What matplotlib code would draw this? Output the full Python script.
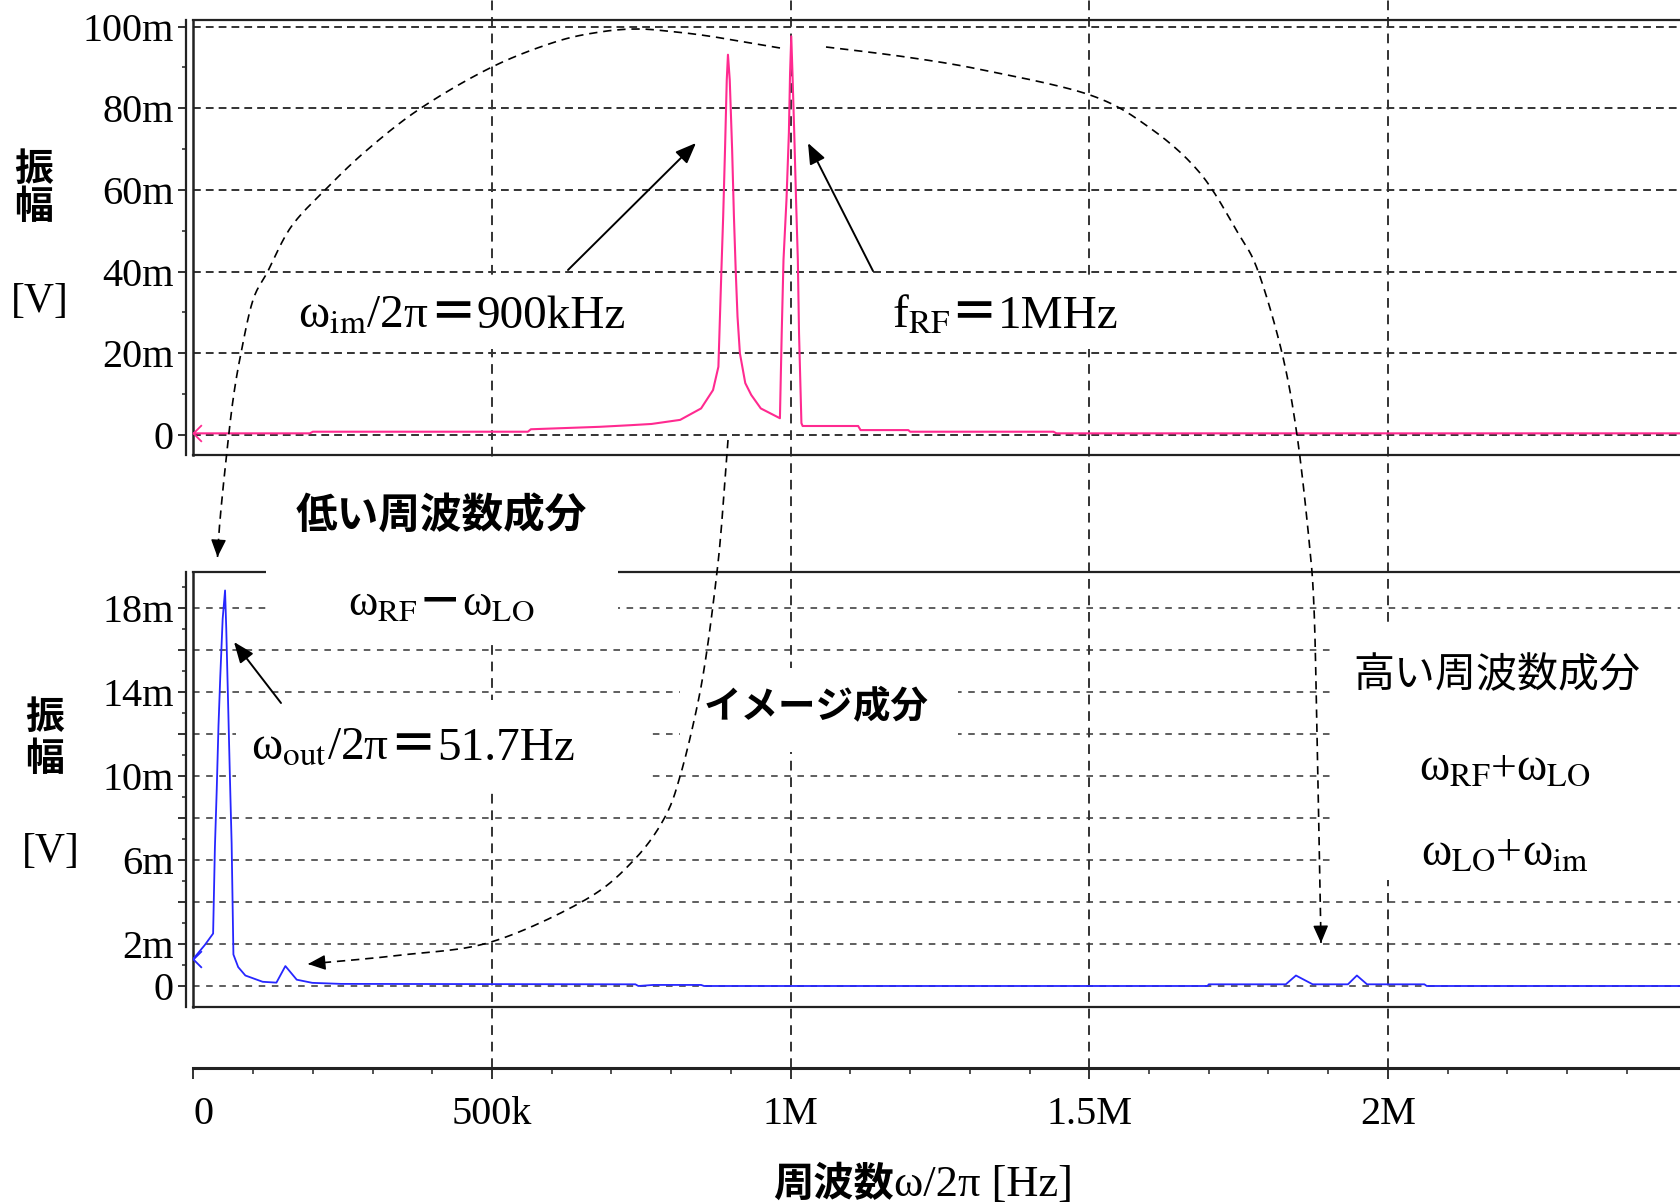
import matplotlib
matplotlib.use("Agg")
import numpy as np
import matplotlib.pyplot as plt
from matplotlib.path import Path
from matplotlib.patches import Rectangle
from matplotlib.ticker import MultipleLocator

SERIF = 'Liberation Serif'
CJK = 'Noto Sans CJK JP'
plt.rcParams['font.family'] = [SERIF, CJK]
plt.rcParams['mathtext.fontset'] = 'stix'

# ---- data ----
# upper trace (RF input spectrum): frequency in kHz, amplitude in mV
rf_freq_khz = [0, 195, 200, 560, 565, 680, 732, 767, 815, 850, 870, 879,
               884, 887, 890, 893, 895, 898, 902, 905, 908, 911, 915, 924,
               934, 950, 982, 985, 988, 993, 997, 999, 1001, 1003, 1006, 1009,
               1012, 1014, 1018, 1020, 1113, 1117, 1197, 1200, 1440, 1445, 2489]
rf_amp_mv = [0.4, 0.4, 0.8, 0.8, 1.4, 2.0, 2.4, 2.7, 3.7, 6.5, 11.0, 16.7,
             40.2, 53.5, 69.4, 86.9, 93.1, 86.9, 69.8, 53.5, 40.2, 29.0, 20.0, 12.7,
             9.8, 6.5, 4.1, 24.9, 42.9, 57.6, 73.9, 88.6, 97.6, 88.6, 73.9, 57.6,
             42.9, 24.9, 2.9, 2.2, 2.2, 1.2, 1.2, 0.8, 0.8, 0.4, 0.4]

# lower trace (mixer output spectrum)
out_freq_khz = [0, 19, 33, 36, 39, 42, 45, 49, 53, 55, 58, 61,
                64, 67, 75, 87, 116, 139, 154, 173, 199, 247, 740, 745,
                770, 850, 855, 1698, 1700, 1829, 1846, 1874, 1933, 1948, 1965, 2061,
                2065, 2489]
out_amp_mv = [1.3, 1.95, 2.5, 6.6, 9.3, 12.4, 14.75, 17.5, 18.85, 17.05, 13.6, 10.1,
              6.8, 1.5, 0.9, 0.5, 0.2, 0.16, 0.95, 0.3, 0.15, 0.1, 0.08, 0.0,
              0.05, 0.05, 0.0, 0.0, 0.08, 0.08, 0.5, 0.08, 0.08, 0.5, 0.08, 0.08,
              0.0, 0.0]

x_ticks = [0, 500e3, 1e6, 1.5e6, 2e6]
x_ticklabels = ['0', '500k', '1M', '1.5M', '2M']
top_yticks = [0, 20, 40, 60, 80, 100]
top_yticklabels = ['0', '20m', '40m', '60m', '80m', '100m']
bot_yticks = [0, 2, 4, 6, 8, 10, 12, 14, 16, 18]
bot_yticklabels = ['0', '2m', '', '6m', '', '10m', '', '14m', '', '18m']

RF_COLOR = '#ff2a90'
OUT_COLOR = '#2626ff'
GRID = '#333333'
FRAME = '#222222'

# ---- layout, in pixels of the 1680x1203 picture ----
W, H = 1680, 1203
X0 = 193.4
XMAX = 2.489e6


def fbox(x0, y0, x1, y1):
    return [x0 / W, 1 - y1 / H, (x1 - x0) / W, (y1 - y0) / H]


fig = plt.figure(figsize=(W / 100, H / 100), dpi=100)
bg = fig.add_axes(fbox(X0, 0, W, 1068), zorder=0)
ax1 = fig.add_axes(fbox(X0, 20, W, 455), zorder=1)
ax2 = fig.add_axes(fbox(X0, 572, W, 1006.7), zorder=1)
ov = fig.add_axes([0, 0, 1, 1], zorder=5)

# vertical grid runs through the whole picture
bg.set_xlim(0, XMAX)
bg.set_ylim(0, 1)
bg.axis('off')
for xv in x_ticks[1:]:
    bg.axvline(xv, color=GRID, lw=1.4, ls=(0, (5, 3.5)))

chevron = Path([(1, 1), (0, 0), (1, -1)], [Path.MOVETO, Path.LINETO, Path.LINETO])

rf_f = np.array(rf_freq_khz) * 1e3
out_f = np.array(out_freq_khz) * 1e3

ax1.plot(rf_f, rf_amp_mv, color=RF_COLOR, lw=1.5, zorder=3)
ax1.plot(rf_f[0], rf_amp_mv[0], marker=chevron, ms=12, mfc='none', mec=RF_COLOR,
         mew=1.3, clip_on=False, zorder=4)
ax1.set_ylim(-4.9, 101.6)
ax1.set_yticks(top_yticks, top_yticklabels)
ax1.yaxis.set_minor_locator(MultipleLocator(10))
for v in top_yticks:
    ax1.axhline(v, color=GRID, lw=1.4, ls=(0, (4, 2.6)), zorder=1)

ax2.plot(out_f, out_amp_mv, color=OUT_COLOR, lw=1.3, zorder=3)
ax2.plot(out_f[0], out_amp_mv[0], marker=chevron, ms=12, mfc='none', mec=OUT_COLOR,
         mew=1.3, clip_on=False, zorder=4)
ax2.set_ylim(-0.987, 19.73)
ax2.set_yticks(bot_yticks, bot_yticklabels)
ax2.yaxis.set_minor_locator(MultipleLocator(1))
for v in bot_yticks:
    ax2.axhline(v, color=GRID, lw=1.1, ls=(0, (4.3, 4.3)), zorder=1)

for ax in (ax1, ax2):
    ax.set_facecolor('none')
    ax.set_xlim(0, XMAX)
    ax.spines['right'].set_visible(False)
    ax.spines['left'].set_position(('outward', 5))
    for s in ('left', 'top', 'bottom'):
        ax.spines[s].set_linewidth(1.6)
        ax.spines[s].set_color(FRAME)
    ax.axvline(0, color=FRAME, lw=1.8, clip_on=False)
    ax.tick_params(axis='y', which='major', direction='out', length=6, width=1.3,
                   pad=3, labelsize=29, color=FRAME)
    ax.tick_params(axis='y', which='minor', direction='out', length=3, width=1.1,
                   color=FRAME)

ax1.tick_params(axis='x', which='both', bottom=False, labelbottom=False)

# lower panel: the x axis sits below the frame
ax2.spines['bottom'].set_position(('outward', 44))
ax2.spines['bottom'].set_linewidth(2.2)
ax2.axhline(-0.987, color=FRAME, lw=1.6, clip_on=False)
ax2.set_xticks(x_ticks, x_ticklabels)
ax2.xaxis.set_minor_locator(MultipleLocator(100e3))
ax2.tick_params(axis='x', which='major', direction='out', length=8, width=1.3,
                pad=12, labelsize=29, color=FRAME)
ax2.tick_params(axis='x', which='minor', direction='out', length=4, width=1.1,
                color=FRAME)
ax2.get_xticklabels()[0].set_horizontalalignment('left')

# ---- overlay: white text boxes, arrows, labels ----
ov.set_xlim(0, W)
ov.set_ylim(H, 0)
ov.axis('off')

text_boxes = [(293, 277, 632, 349), (885, 277, 1125, 349), (266, 462, 618, 640),
              (236, 700, 650, 790), (680, 668, 958, 752), (1330, 628, 1680, 880)]
for x0, y0, x1, y1 in text_boxes:
    ov.add_patch(Rectangle((x0, y0), x1 - x0, y1 - y0, facecolor='white',
                           edgecolor='none', zorder=1))


def smooth(pts, n=14):
    p = np.asarray(pts, float)
    p = np.vstack([p[0], p, p[-1]])
    out = []
    t = np.linspace(0, 1, n, endpoint=False)[:, None]
    for i in range(1, len(p) - 2):
        p0, p1, p2, p3 = p[i - 1], p[i], p[i + 1], p[i + 2]
        out.append(0.5 * (2 * p1 + (-p0 + p2) * t + (2 * p0 - 5 * p1 + 4 * p2 - p3) * t ** 2
                          + (-p0 + 3 * p1 - 3 * p2 + p3) * t ** 3))
    out.append(p[-2][None])
    return np.vstack(out)


HEAD = '-|>,head_length=0.6,head_width=0.26'


def dashed_arrow(pts):
    c = smooth(pts)
    ov.plot(c[:, 0], c[:, 1], color='k', lw=1.2, ls=(0, (5, 3.5)), zorder=2)
    tip = c[-1]
    d = c[-1] - c[-4]
    d = d / np.hypot(*d)
    ov.annotate('', xy=tip, xytext=tip - d * 6,
                arrowprops=dict(arrowstyle=HEAD, mutation_scale=18, color='k', lw=1.0,
                                shrinkA=0, shrinkB=0), zorder=3)


# from the 1 MHz peak down to the low and the high frequency components
dashed_arrow([(780, 48), (715, 37), (676, 32), (638, 29), (600, 32), (555, 42),
              (492, 67), (421, 108), (367, 150), (325, 190), (291, 227), (268, 271),
              (253, 300), (241, 353), (233, 400), (226, 460), (220, 520), (217.5, 557)])
dashed_arrow([(826, 47), (906, 57), (983, 70), (1090, 95), (1150, 128), (1200, 173),
              (1238, 233), (1258, 271), (1282, 353), (1297, 435), (1309, 540),
              (1314, 608), (1317, 733), (1321, 943)])
# image component
dashed_arrow([(728, 440), (722, 520), (717, 572), (707, 650), (697, 707), (681, 773),
              (665, 817), (634, 860), (585, 900), (491, 942), (402, 955), (308, 964)])

for tail, head in [((568, 270), (696, 143)), ((873, 271), (808, 143)),
                   ((281, 703), (234, 642))]:
    ov.annotate('', xy=head, xytext=tail,
                arrowprops=dict(arrowstyle='-|>,head_length=0.7,head_width=0.28',
                                mutation_scale=18, color='k', lw=1.4,
                                shrinkA=0, shrinkB=0), zorder=3)

renderer = fig.canvas.get_renderer()


def mixed(xc, yb, parts):
    items = []
    x = 0.0
    for s, fam, wt, size in parts:
        t = ov.text(0, yb, s, fontsize=size, family=fam, weight=wt,
                    ha='left', va='baseline', zorder=4)
        items.append((t, x))
        x += t.get_window_extent(renderer).width
    for t, off in items:
        t.set_x(xc - x / 2 + off)


S = [SERIF, CJK]
mixed(462, 328, [(r'ω$_{\rm im}$/2π', S, 'normal', 34), ('＝', CJK, 'bold', 34),
                 ('900kHz', S, 'normal', 34)])
mixed(1005, 328, [(r'f$_{\rm RF}$', S, 'normal', 34), ('＝', CJK, 'bold', 34),
                  ('1MHz', S, 'normal', 34)])
mixed(441, 615, [(r'ω$_{\rm RF}$', S, 'normal', 32), ('－', CJK, 'bold', 32),
                 (r'ω$_{\rm LO}$', S, 'normal', 32)])
mixed(413, 760, [(r'ω$_{\rm out}$/2π', S, 'normal', 34), ('＝', CJK, 'bold', 34),
                 ('51.7Hz', S, 'normal', 34)])
mixed(1505, 780, [(r'ω$_{\rm RF}$', S, 'normal', 33), ('+', S, 'normal', 33),
                  (r'ω$_{\rm LO}$', S, 'normal', 33)])
mixed(1505, 865, [(r'ω$_{\rm LO}$', S, 'normal', 33), ('+', S, 'normal', 33),
                  (r'ω$_{\rm im}$', S, 'normal', 33)])
mixed(923, 1196, [('周波数', CJK, 'bold', 29), ('ω/2π [Hz]', S, 'normal', 32)])

ov.text(441, 516, '低い周波数成分', family=CJK, weight='bold', fontsize=30,
        ha='center', va='center', zorder=4)
ov.text(1497, 676, '高い周波数成分', family=CJK, weight='normal', fontsize=29.5,
        ha='center', va='center', zorder=4)
ov.text(816, 706, 'イメージ成分', family=CJK, weight='bold', fontsize=27,
        ha='center', va='center', zorder=4)

for (x, y1, y2, y3) in [(34, 169, 208, 302), (45, 718, 760, 852)]:
    ov.text(x, y1, '振', family=CJK, weight='bold', fontsize=28, ha='center', va='center')
    ov.text(x, y2, '幅', family=CJK, weight='bold', fontsize=28, ha='center', va='center')
    ov.text(x + 6, y3, '[V]', family=S, fontsize=30, ha='center', va='center')

fig.savefig('out.png', dpi=100, facecolor='white')
